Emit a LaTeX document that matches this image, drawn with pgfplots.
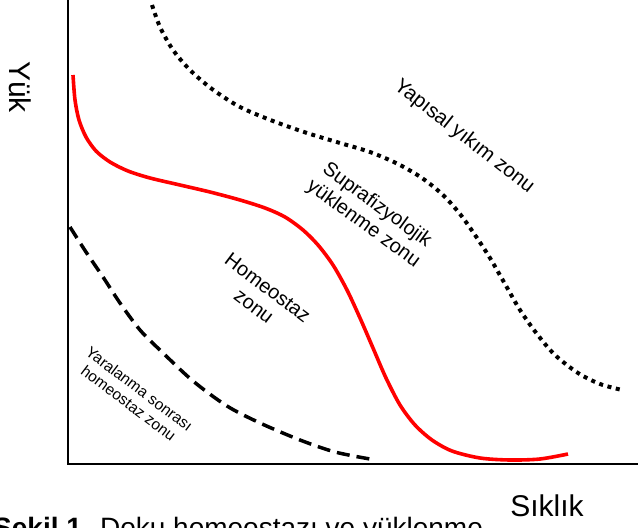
\documentclass[border=0pt]{standalone}
\usepackage{pgfplots}
\pgfplotsset{compat=1.18}
\usepackage{fontspec}
\setmainfont{Liberation Sans}
\begin{document}
\begin{tikzpicture}
\useasboundingbox (0,0) rectangle (638pt,528pt);
\begin{axis}[name=ax, at={(0,0)}, anchor=south west, width=638pt, height=528pt,
  scale only axis, xmin=0, xmax=638, ymin=0, ymax=528, y dir=reverse,
  axis lines=none, ticks=none, clip=false]
% axes
\addplot[black, line width=2pt] coordinates {(68,0) (68,463.5) (638,463.5)};
% red curve
\addplot[red, line width=3.6pt, smooth] coordinates {
(73,75) (75,100) (79,120) (86,137) (96,151) (110,162) (128,171) (150,178)
(180,185) (210,192) (240,200) (265,208) (285,217) (303,230) (318,245)
(333,265) (347,290) (360,318) (373,348) (386,378) (400,405) (415,425)
(432,440) (452,451) (480,458) (510,460) (540,459) (568,454)};
% dashed curve
\addplot[black, line width=3.5pt, dash pattern=on 13pt off 7pt, smooth] coordinates {
(70,227) (86,252) (103,277) (120,303) (140,330) (162,352) (193,381)
(227,406) (260,423) (300,440) (335,452) (370,459)};
% dotted curve
\addplot[black, line width=4pt, dash pattern=on 4pt off 4.6pt, smooth] coordinates {
(152,5) (160,27) (173,50) (190,70) (212,89) (240,107) (273,121) (307,133)
(340,143) (370,152) (398,164) (422,178) (443,195) (460,214) (475,235)
(490,258) (505,284) (520,310) (537,334) (555,355) (578,373) (600,384) (622,390)};
% labels
\node[rotate=-90, font=\fontsize{30}{34}\selectfont, inner sep=0] at (axis cs:20,87) {Yük};
\node[font=\fontsize{30}{34}\selectfont, inner sep=0] at (axis cs:547,506) {Sıklık};
\node[rotate=-38, font=\fontsize{20.5}{23}\selectfont, inner sep=0] at (axis cs:464,137) {Yapısal yıkım zonu};
\node[rotate=-36, align=center, font=\fontsize{20}{23}\selectfont, inner sep=0] at (axis cs:370,215) {Suprafizyolojik\\yüklenme zonu};
\node[rotate=-37, align=center, font=\fontsize{20}{23}\selectfont, inner sep=0] at (axis cs:261,297) {Homeostaz\\zonu};
\node[rotate=-37, align=center, font=\fontsize{15.5}{18}\selectfont, inner sep=0] at (axis cs:134,396) {Yaralanma sonrası\\homeostaz zonu};
\node[anchor=base west, inner sep=0, font=\fontsize{28}{32}\selectfont] at (axis cs:-7,537) {\textbf{Şekil 1.} Doku homeostazı ve yüklenme};
\end{axis}
\end{tikzpicture}
\end{document}
